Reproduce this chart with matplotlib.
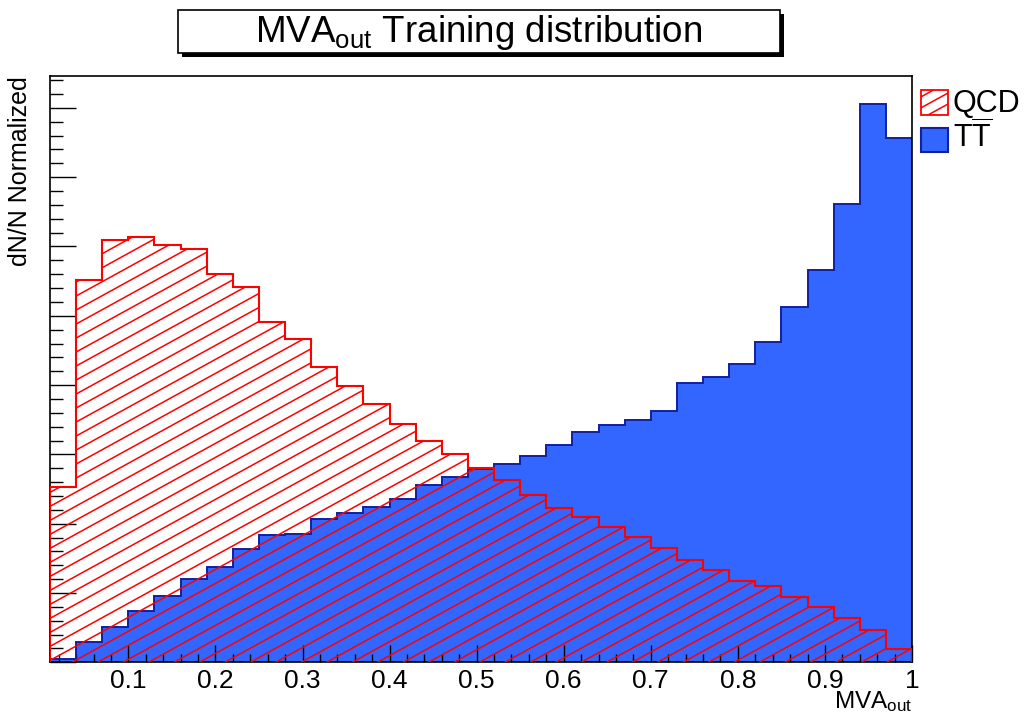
import numpy as np
import matplotlib
matplotlib.use("Agg")
import matplotlib.pyplot as plt
from matplotlib.patches import Rectangle, Polygon
from matplotlib.collections import LineCollection
from matplotlib.ticker import MultipleLocator, FixedLocator, FixedFormatter

plt.rcParams["font.family"] = ["Liberation Sans", "DejaVu Sans"]
plt.rcParams["mathtext.fontset"] = "custom"
plt.rcParams["mathtext.rm"] = "Liberation Sans"
plt.rcParams["mathtext.it"] = "Liberation Sans:italic"
plt.rcParams["mathtext.bf"] = "Liberation Sans:bold"

# MVA output binning: 33 bins from 0.01 to 1.0
bin_lo, bin_hi, n_bins = 0.01, 1.0, 33
edges = np.linspace(bin_lo, bin_hi, n_bins + 1)

# Normalised training distributions (fraction of events per bin)
qcd = [0.0253, 0.0552, 0.0609, 0.0613, 0.0602, 0.0596, 0.0560, 0.0541,
       0.0491, 0.0467, 0.0426, 0.0399, 0.0373, 0.0344, 0.0319, 0.0301,
       0.0281, 0.0263, 0.0241, 0.0222, 0.0210, 0.0195, 0.0181, 0.0165,
       0.0148, 0.0133, 0.0118, 0.0110, 0.0094, 0.0080, 0.0064, 0.0047,
       0.0019]
ttbar = [0.0005, 0.0029, 0.0051, 0.0074, 0.0096, 0.0120, 0.0138, 0.0164,
         0.0184, 0.0185, 0.0207, 0.0216, 0.0224, 0.0236, 0.0256, 0.0268,
         0.0279, 0.0286, 0.0298, 0.0313, 0.0333, 0.0342, 0.0350, 0.0363,
         0.0403, 0.0411, 0.0431, 0.0462, 0.0513, 0.0566, 0.0661, 0.0805,
         0.0756]

x_major = [0.1, 0.2, 0.3, 0.4, 0.5, 0.6, 0.7, 0.8, 0.9, 1.0]
x_major_labels = ["0.1", "0.2", "0.3", "0.4", "0.5", "0.6", "0.7", "0.8", "0.9", "1"]
y_max = 0.0846

title_text = r"MVA$_{\mathrm{out}}$ Training distribution"
x_title = r"MVA$_{\mathrm{out}}$"
y_title = "dN/N Normalized"
legend_labels = ["QCD", r"T$\overline{\mathrm{T}}$"]

blue_fill = "#3366ff"
blue_line = "#1020a0"
red = "#ff0000"

W_PX, H_PX = 1024, 715
fig = plt.figure(figsize=(W_PX / 100, H_PX / 100), dpi=100)

ax_l, ax_b, ax_w, ax_h = 50, 52.7, 862, 586.3
ax = fig.add_axes([ax_l / W_PX, ax_b / H_PX, ax_w / W_PX, ax_h / H_PX])


def hatch_segments(width, height, slope=0.55, spacing=14.0):
    """Parallel rising lines covering a width x height pixel box, in box fractions."""
    cs = np.arange(-slope * width - spacing, height + spacing, spacing)
    return [[(0.0, c / height), (1.0, (slope * width + c) / height)] for c in cs]


# ttbar: solid blue fill with dark blue outline
ax.stairs(ttbar, edges, fill=True, facecolor=blue_fill, edgecolor="none", zorder=1)
ax.stairs(ttbar, edges, fill=False, color=blue_line, lw=1.4, baseline=0, zorder=2)

# QCD: red hatched area with red outline
xs = np.repeat(edges, 2)
ys = np.concatenate([[0.0], np.repeat(qcd, 2), [0.0]])
qcd_poly = Polygon(np.column_stack([xs, ys]), closed=True, facecolor="none",
                   edgecolor="none", zorder=0)
ax.add_patch(qcd_poly)
hatch = LineCollection(hatch_segments(ax_w, ax_h), colors=red, linewidths=1.1,
                       transform=ax.transAxes, zorder=3)
hatch.set_clip_path(qcd_poly)
ax.add_collection(hatch)
ax.stairs(qcd, edges, fill=False, color=red, lw=1.5, baseline=0, zorder=4)

ax.set_xlim(bin_lo, bin_hi)
ax.set_ylim(0, y_max)

ax.xaxis.set_major_locator(FixedLocator(x_major))
ax.xaxis.set_major_formatter(FixedFormatter(x_major_labels))
ax.xaxis.set_minor_locator(MultipleLocator(0.02))
ax.yaxis.set_major_locator(MultipleLocator(0.01))
ax.yaxis.set_minor_locator(MultipleLocator(0.002))
ax.yaxis.set_major_formatter(FixedFormatter([]))
ax.tick_params(axis="both", which="both", direction="in", top=False, right=False,
               color="black", width=1.0)
ax.tick_params(axis="x", which="major", length=12.5, labelsize=19, pad=5)
ax.tick_params(axis="x", which="minor", length=6)
ax.tick_params(axis="y", which="major", length=19)
ax.tick_params(axis="y", which="minor", length=9.5)
for sp in ax.spines.values():
    sp.set_linewidth(1.2)
    sp.set_color("black")

fig.text(912 / W_PX, 1 - 708 / H_PX, x_title, fontsize=17.5, ha="right", va="baseline")
fig.text(20 / W_PX, 1 - 76 / H_PX, y_title, fontsize=18, rotation=90,
         ha="center", va="top")

# Title box with drop shadow
bx0, by0, bx1, by1 = 178, 10, 780, 53
fig.patches.append(Rectangle(((bx0 + 4) / W_PX, 1 - (by1 + 4) / H_PX),
                             (bx1 - bx0) / W_PX, (by1 - by0) / H_PX,
                             transform=fig.transFigure, facecolor="black",
                             edgecolor="none", zorder=1))
fig.patches.append(Rectangle((bx0 / W_PX, 1 - by1 / H_PX),
                             (bx1 - bx0) / W_PX, (by1 - by0) / H_PX,
                             transform=fig.transFigure, facecolor="white",
                             edgecolor="black", lw=1.2, zorder=2))
fig.text((bx0 + bx1) / 2 / W_PX, 1 - 42 / H_PX, title_text, fontsize=26.5,
         ha="center", va="baseline", zorder=3)

# Legend (drawn in figure pixels)
lx0, lx1 = 921, 948
box_q = (90, 115)
box_t = (128, 152)
leg_ax = fig.add_axes([lx0 / W_PX, 1 - box_q[1] / H_PX, (lx1 - lx0) / W_PX,
                       (box_q[1] - box_q[0]) / H_PX])
leg_ax.set_axis_off()
leg_hatch = LineCollection(hatch_segments(lx1 - lx0, box_q[1] - box_q[0], spacing=11.0),
                           colors=red, linewidths=1.1, transform=leg_ax.transAxes)
leg_ax.add_collection(leg_hatch)
leg_ax.add_patch(Rectangle((0, 0), 1, 1, transform=leg_ax.transAxes,
                           facecolor="none", edgecolor=red, lw=1.3, clip_on=False))
fig.patches.append(Rectangle((lx0 / W_PX, 1 - box_t[1] / H_PX), (lx1 - lx0) / W_PX,
                             (box_t[1] - box_t[0]) / H_PX, transform=fig.transFigure,
                             facecolor=blue_fill, edgecolor=blue_line, lw=1.5, zorder=5))
fig.text(953 / W_PX, 1 - 111.5 / H_PX, legend_labels[0], fontsize=22,
         ha="left", va="baseline")
fig.text(953 / W_PX, 1 - 148 / H_PX, legend_labels[1], fontsize=22,
         ha="left", va="baseline")

fig.savefig("out.png", dpi=100, facecolor="white")
